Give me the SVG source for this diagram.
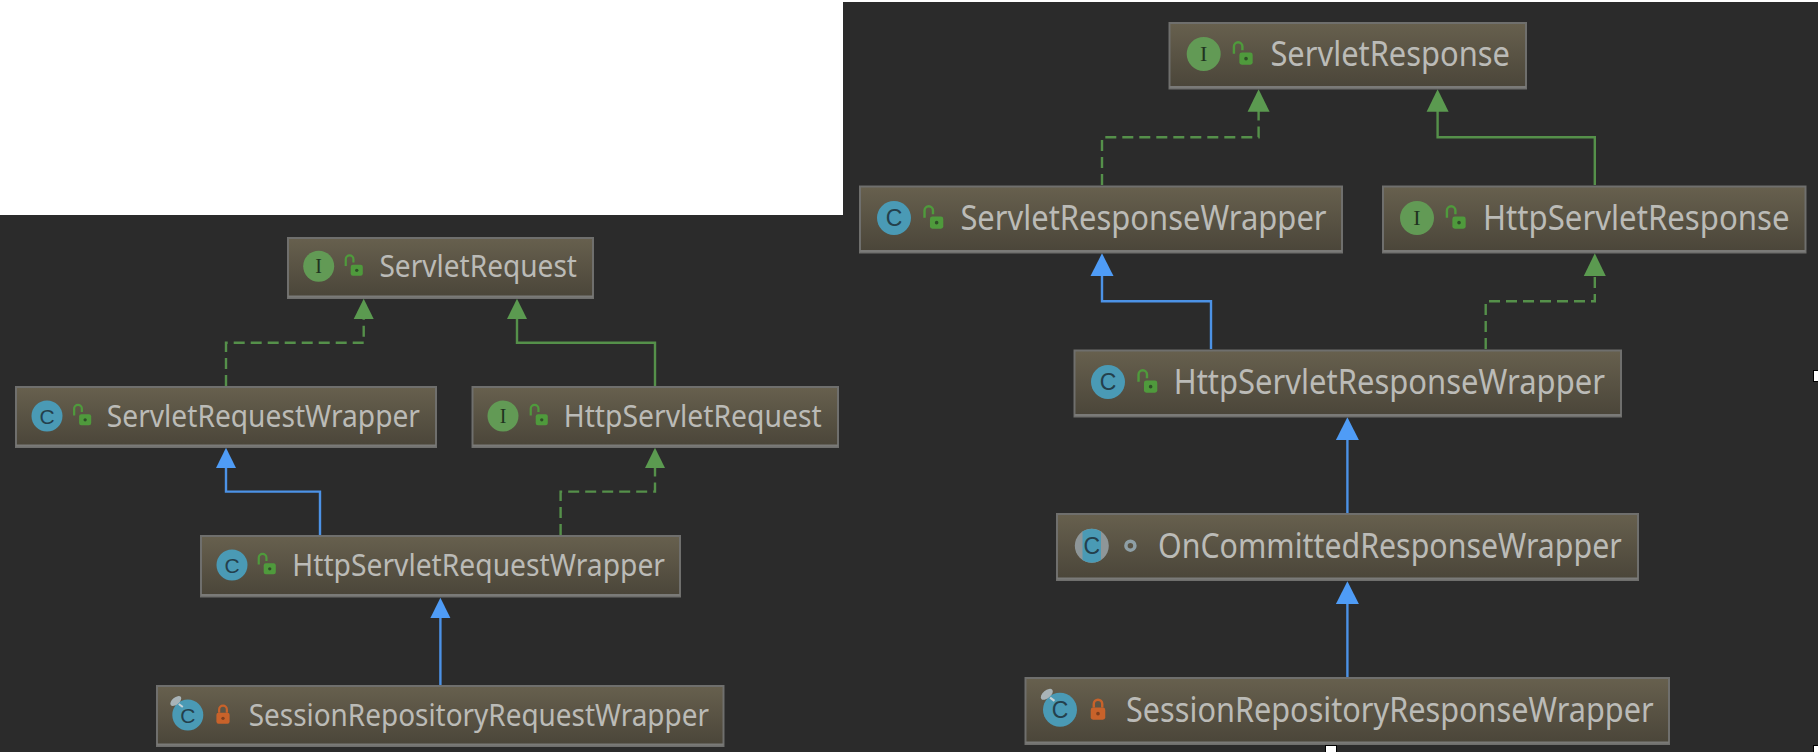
<svg xmlns="http://www.w3.org/2000/svg" width="1818" height="752" viewBox="0 0 1818 752">
<style>
.box{fill:url(#nodeFill);stroke:#6f6f6d;stroke-width:2}
.foot{stroke:#7a7a78;stroke-width:2;fill:none}
.name{font-family:"Noto Sans","Liberation Sans",sans-serif;fill:#bbbbb7}
.a{font-size:30px}.b{font-size:34px}
.glyph{font-family:"Liberation Sans",sans-serif;fill:#24404c;text-anchor:middle}
.glyphI{font-family:"Liberation Serif",serif;fill:#1f3320;text-anchor:middle}
.line{fill:none;stroke-width:2.400}
.blue{stroke:#4c92e6}.green{stroke:#55904a}
.dash{stroke-dasharray:11 6}
.hblue{fill:#4f9cf6}.hgreen{fill:#5b9a50}
.cc{fill:#4a9ab5}.ci{fill:#629a55}
</style>
<defs>
<linearGradient id="nodeFill" x1="0" y1="0" x2="0" y2="1"><stop offset="0" stop-color="#67604e"/><stop offset="1" stop-color="#4a4539"/></linearGradient>
<g id="lockOpen" transform="scale(1.100)"><path d="M-7.500 -1V-7a3.500 3.500 0 0 1 7 0V-4" fill="none" stroke="#4f9a3c" stroke-width="2"/><rect x="-3" y="-2" width="11" height="10" rx="2" fill="#4f9a3c"/><circle cx="2.500" cy="3" r="1.500" fill="#2f4f28"/></g>
<g id="lockShut" transform="scale(1.100)"><path d="M-3.500 -2V-5a3.500 3.500 0 0 1 7 0V-2" fill="none" stroke="#c8622a" stroke-width="2"/><rect x="-6" y="-2" width="12" height="10" rx="2" fill="#c8622a"/><circle cx="0" cy="3" r="1.500" fill="#7d3f1e"/></g>
<g id="pin"><ellipse cx="-12" cy="-14" rx="6.500" ry="3.500" transform="rotate(-40 -12 -14)" fill="#a9b4b8"/><path d="M-9 -11L-5 -8" stroke="#c8d2d6" stroke-width="2"/></g>
</defs>
<rect width="1818" height="752" fill="#ffffff"/>
<rect x="0" y="215" width="843" height="537" fill="#2b2b2b"/>
<rect x="843" y="2" width="975" height="750" fill="#2b2b2b"/>
<g id="handles" fill="#ffffff" stroke="#000000" stroke-width="1">
<rect x="1813.500" y="370.500" width="6" height="11"/>
<rect x="1325.500" y="745.500" width="11" height="8"/>
<rect x="1813.500" y="745.500" width="6" height="8"/>
</g>
<g id="connectors">
<path class="line green dash" d="M226 386V342.700H363.700V319"/>
<path class="hgreen" d="M363.700 298.700l10 20.300h-20z"/>
<path class="line green" d="M655 386V342.700H517V319"/>
<path class="hgreen" d="M517 298.700l10 20.300h-20z"/>
<path class="line blue" d="M320 535V491.600H226V468"/>
<path class="hblue" d="M226 447.700l10 20.300h-20z"/>
<path class="line green dash" d="M560.600 535V491.600H655V468"/>
<path class="hgreen" d="M655 447.700l10 20.300h-20z"/>
<path class="line blue" d="M440.400 685V617"/>
<path class="hblue" d="M440.400 597.700l10 20.300h-20z"/>
<path class="line green dash" d="M1102 185V137.300H1258.600V111"/>
<path class="hgreen" d="M1258.600 89.300l11 22.400h-22z"/>
<path class="line green" d="M1594.800 185V137.300H1437.600V111"/>
<path class="hgreen" d="M1437.600 89.300l11 22.400h-22z"/>
<path class="line blue" d="M1211 349V301.300H1102V276"/>
<path class="hblue" d="M1102 253.300l11.500 22.700h-23z"/>
<path class="line green dash" d="M1485.700 349V301.300H1594.800V276"/>
<path class="hgreen" d="M1594.800 253.300l11 22.700h-22z"/>
<path class="line blue" d="M1347.400 513V440"/>
<path class="hblue" d="M1347.400 417.300l11.500 22.700h-23z"/>
<path class="line blue" d="M1347.400 677V604"/>
<path class="hblue" d="M1347.400 581.300l11.500 22.700h-23z"/>
</g>
<g id="ServletRequest"><rect class="box" x="288" y="238" width="305" height="60"/><path class="foot" d="M288 296.500H593"/><circle class="ci" cx="318.700" cy="266.300" r="15.500"/><text class="glyphI" x="318.700" y="273" font-size="20">I</text><use href="#lockOpen" x="354" y="267"/><text class="name a" x="379.400" y="277" textLength="197.600" lengthAdjust="spacingAndGlyphs">ServletRequest</text></g>
<g id="ServletRequestWrapper"><rect class="box" x="16" y="387" width="420" height="60"/><path class="foot" d="M16 445.500H436"/><circle class="cc" cx="47" cy="416" r="15.500"/><text class="glyph" x="47" y="423.500" font-size="21">C</text><use href="#lockOpen" x="82.400" y="416.500"/><text class="name a" x="106.800" y="426.500" textLength="313.200" lengthAdjust="spacingAndGlyphs">ServletRequestWrapper</text></g>
<g id="HttpServletRequest"><rect class="box" x="472.500" y="387" width="365.500" height="60"/><path class="foot" d="M472.500 445.500H838"/><circle class="ci" cx="503" cy="416" r="15.500"/><text class="glyphI" x="503" y="423" font-size="20">I</text><use href="#lockOpen" x="539" y="416.500"/><text class="name a" x="563.700" y="426.500" textLength="258" lengthAdjust="spacingAndGlyphs">HttpServletRequest</text></g>
<g id="HttpServletRequestWrapper"><rect class="box" x="201" y="536" width="479" height="60.500"/><path class="foot" d="M201 595H680"/><circle class="cc" cx="232" cy="565" r="15.500"/><text class="glyph" x="232" y="572.500" font-size="21">C</text><use href="#lockOpen" x="267" y="565.500"/><text class="name a" x="292.300" y="575.500" textLength="372.700" lengthAdjust="spacingAndGlyphs">HttpServletRequestWrapper</text></g>
<g id="SessionRepositoryRequestWrapper"><rect class="box" x="157" y="686" width="566.500" height="60"/><path class="foot" d="M157 744.500H723.500"/><circle class="cc" cx="187.800" cy="715" r="15.500"/><text class="glyph" x="187.800" y="722.500" font-size="21">C</text><use href="#pin" x="187.800" y="715"/><use href="#lockShut" x="223" y="715"/><text class="name a" x="248.700" y="725.500" textLength="460.300" lengthAdjust="spacingAndGlyphs">SessionRepositoryRequestWrapper</text></g>
<g id="ServletResponse"><rect class="box" x="1169.500" y="23" width="356.500" height="65.500"/><path class="foot" d="M1169.500 87H1526"/><circle class="ci" cx="1203.700" cy="54" r="17"/><text class="glyphI" x="1203.700" y="61" font-size="22">I</text><use href="#lockOpen" transform="translate(1243 55) scale(1.100)"/><text class="name b" x="1270.400" y="66" textLength="239.600" lengthAdjust="spacingAndGlyphs">ServletResponse</text></g>
<g id="ServletResponseWrapper"><rect class="box" x="860" y="186.500" width="482" height="66"/><path class="foot" d="M860 251H1342"/><circle class="cc" cx="894" cy="218" r="17"/><text class="glyph" x="894" y="226" font-size="23">C</text><use href="#lockOpen" transform="translate(933.600 219) scale(1.100)"/><text class="name b" x="960.400" y="230" textLength="366.200" lengthAdjust="spacingAndGlyphs">ServletResponseWrapper</text></g>
<g id="HttpServletResponse"><rect class="box" x="1383" y="186.500" width="422.500" height="66"/><path class="foot" d="M1383 251H1805.500"/><circle class="ci" cx="1417" cy="218" r="17"/><text class="glyphI" x="1417" y="225" font-size="22">I</text><use href="#lockOpen" transform="translate(1456 219) scale(1.100)"/><text class="name b" x="1483" y="230" textLength="306.500" lengthAdjust="spacingAndGlyphs">HttpServletResponse</text></g>
<g id="HttpServletResponseWrapper"><rect class="box" x="1074.500" y="350.500" width="546.500" height="66"/><path class="foot" d="M1074.500 415H1621"/><circle class="cc" cx="1108" cy="382" r="17"/><text class="glyph" x="1108" y="390" font-size="23">C</text><use href="#lockOpen" transform="translate(1147.600 383) scale(1.100)"/><text class="name b" x="1173.700" y="394" textLength="431.300" lengthAdjust="spacingAndGlyphs">HttpServletResponseWrapper</text></g>
<g id="OnCommittedResponseWrapper"><rect class="box" x="1057" y="514" width="581" height="66"/><path class="foot" d="M1057 578.500H1638"/><circle cx="1091.800" cy="545.700" r="17" fill="#8e9698"/><path class="cc" d="M1082.500 531.500A17 17 0 0 1 1101 531.500V560A17 17 0 0 1 1082.500 560Z"/><text class="glyph" x="1091.800" y="553.500" font-size="23">C</text><circle cx="1130.400" cy="545.700" r="4.500" fill="none" stroke="#8e9fa6" stroke-width="3.500"/><text class="name b" x="1158" y="558" textLength="463.800" lengthAdjust="spacingAndGlyphs">OnCommittedResponseWrapper</text></g>
<g id="SessionRepositoryResponseWrapper"><rect class="box" x="1025.500" y="678" width="643.500" height="66"/><path class="foot" d="M1025.500 742.500H1669"/><circle class="cc" cx="1060" cy="709.700" r="17"/><text class="glyph" x="1060" y="717.500" font-size="23">C</text><use href="#pin" transform="translate(1060 709.700) scale(1.100)"/><use href="#lockShut" transform="translate(1098 710) scale(1.100)"/><text class="name b" x="1126" y="722" textLength="527.600" lengthAdjust="spacingAndGlyphs">SessionRepositoryResponseWrapper</text></g>
</svg>
